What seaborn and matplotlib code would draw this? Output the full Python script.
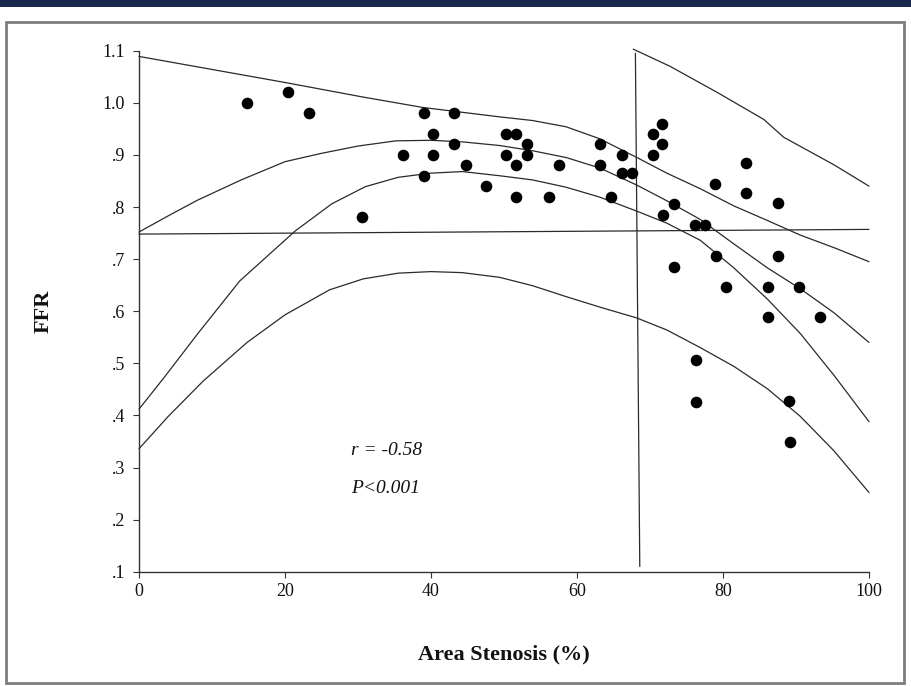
import matplotlib
matplotlib.use("Agg")
import matplotlib.pyplot as plt
import seaborn as sns
import pandas as pd
from matplotlib.patches import Rectangle

# ---- data ----
stenosis = [14.8, 20.4, 23.3, 30.6, 36.1, 39.0, 43.2, 40.3, 40.3, 43.2, 44.8, 39.0, 47.5,
            50.3, 51.7, 53.2, 50.3, 53.2, 51.7, 51.7, 56.2, 57.5, 63.2, 63.2, 66.1, 66.1,
            67.6, 64.6, 70.4, 71.7, 71.7, 70.4, 73.3, 71.8, 73.3, 76.2, 77.5, 78.9, 83.2,
            83.2, 87.5, 79.0, 87.5, 80.4, 86.2, 90.4, 86.2, 93.3, 76.3, 76.3, 89.1, 89.2]
ffr = [1.00, 1.02, 0.98, 0.78, 0.90, 0.98, 0.98, 0.94, 0.90, 0.92, 0.88, 0.86, 0.84,
       0.94, 0.94, 0.92, 0.90, 0.90, 0.88, 0.82, 0.82, 0.88, 0.92, 0.88, 0.90, 0.865,
       0.865, 0.82, 0.94, 0.96, 0.92, 0.90, 0.805, 0.785, 0.685, 0.765, 0.765, 0.845, 0.885,
       0.826, 0.807, 0.706, 0.706, 0.647, 0.647, 0.647, 0.588, 0.588, 0.506, 0.426, 0.428, 0.349]

top_x = [0, 10, 20, 30.7, 38.9, 49.4, 53.9, 58.5, 63.1, 68.2, 72.3, 76.9, 81.5, 86.1, 90.6, 95.2, 100]
top_y = [1.089, 1.064, 1.039, 1.011, 0.991, 0.973, 0.966, 0.954, 0.931, 0.895, 0.865, 0.835,
         0.802, 0.774, 0.746, 0.722, 0.695]

a_x = [0, 4, 8, 14, 20, 25, 30, 35.2, 40, 44.3, 49.4, 53.9, 58.5, 63.1, 68.2, 72.3, 76.9,
       81.5, 86.1, 90.6, 95.2, 100]
a_y = [0.752, 0.783, 0.813, 0.852, 0.887, 0.903, 0.917, 0.927, 0.928, 0.925, 0.918, 0.908,
       0.895, 0.875, 0.842, 0.812, 0.776, 0.729, 0.683, 0.643, 0.597, 0.540]

b_x = [0, 3.4, 8, 13.8, 21.4, 26.4, 31.0, 35.5, 40, 44.3, 49.4, 53.9, 58.5, 63.1, 68.2, 72.3,
       76.9, 81.5, 86.1, 90.6, 95.2, 100]
b_y = [0.412, 0.472, 0.556, 0.658, 0.754, 0.806, 0.839, 0.857, 0.865, 0.868, 0.860, 0.852,
       0.838, 0.819, 0.792, 0.769, 0.736, 0.683, 0.623, 0.557, 0.477, 0.388]

c_x = [0, 4, 8.8, 14.8, 20, 26.1, 30.7, 35.5, 40, 44.3, 49.4, 53.9, 58.5, 63.1, 68.2, 72.3,
       76.9, 81.5, 86.1, 90.6, 95.2, 100]
c_y = [0.336, 0.398, 0.466, 0.540, 0.593, 0.641, 0.662, 0.673, 0.676, 0.674, 0.665, 0.649,
       0.628, 0.608, 0.587, 0.564, 0.530, 0.494, 0.451, 0.398, 0.332, 0.252]

tr_x = [67.7, 72.75, 79.2, 85.6, 88.3, 95.2, 100]
tr_y = [1.103, 1.070, 1.020, 0.968, 0.934, 0.881, 0.840]

hline_x = [0, 100]
hline_y = [0.748, 0.757]
vline_x = [68.0, 68.6]
vline_y = [1.095, 0.11]

yticks = [0.1, 0.2, 0.3, 0.4, 0.5, 0.6, 0.7, 0.8, 0.9, 1.0, 1.1]
ytick_labels = [".1", ".2", ".3", ".4", ".5", ".6", ".7", ".8", ".9", "1.0", "1.1"]
xticks = [0, 20, 40, 60, 80, 100]
xtick_labels = ["0", "20", "40", "60", "80", "100"]

# ---- plotting ----
sns.set_theme(style="white")
plt.rcParams["font.family"] = ["Liberation Serif", "DejaVu Serif"]

W, H = 912, 686
fig = plt.figure(figsize=(W / 100, H / 100), dpi=100)
fig.patch.set_facecolor("white")

# navy band at top and grey frame
fig.add_artist(Rectangle((0, 1 - 7 / H), 1, 7 / H, transform=fig.transFigure,
                         facecolor="#1a2850", edgecolor="none"))
fig.add_artist(Rectangle((6 / W, 1 - 683 / H), (904 - 6) / W, (683 - 22) / H,
                         transform=fig.transFigure, fill=False, edgecolor="#7d7d7d", lw=2))

ax = fig.add_axes([139 / W, 1 - 571.7 / H, 730 / W, 521 / H])
ax.set_facecolor("white")

line_kw = dict(ax=ax, sort=False, estimator=None, color="#2a2a2a", lw=0.9)
for xs, ys in [(top_x, top_y), (a_x, a_y), (b_x, b_y), (c_x, c_y), (tr_x, tr_y),
               (hline_x, hline_y), (vline_x, vline_y)]:
    sns.lineplot(x=xs, y=ys, **line_kw)
for ln in ax.lines:
    ln.set_clip_on(False)

sns.scatterplot(x=stenosis, y=ffr, ax=ax, s=70, color="black", edgecolor="black",
                linewidth=0, zorder=3)

ax.set_xlim(0, 100)
ax.set_ylim(0.1, 1.1)
ax.set_xticks(xticks)
ax.set_xticklabels(xtick_labels)
ax.set_yticks(yticks)
ax.set_yticklabels(ytick_labels)

for s in ["top", "right"]:
    ax.spines[s].set_visible(False)
for s in ["left", "bottom"]:
    ax.spines[s].set_color("#333333")
    ax.spines[s].set_linewidth(1.0)

ax.tick_params(axis="both", which="both", bottom=True, left=True, direction="out",
               length=4, width=0.8, color="#333333", labelsize=13, labelcolor="#111111")
ax.tick_params(axis="x", pad=4)
ax.tick_params(axis="y", pad=6)

ax.set_xlabel("Area Stenosis (%)", fontsize=16, fontweight="bold", labelpad=32, color="#111111")
ax.set_ylabel("FFR", fontsize=16, fontweight="bold", labelpad=35, color="#111111")

ax.text(29.0, 0.332, "r = -0.58", style="italic", fontsize=14, va="center", color="#111111")
ax.text(29.1, 0.259, "P<0.001", style="italic", fontsize=14, va="center", color="#111111")

fig.savefig("out.png", dpi=100)
